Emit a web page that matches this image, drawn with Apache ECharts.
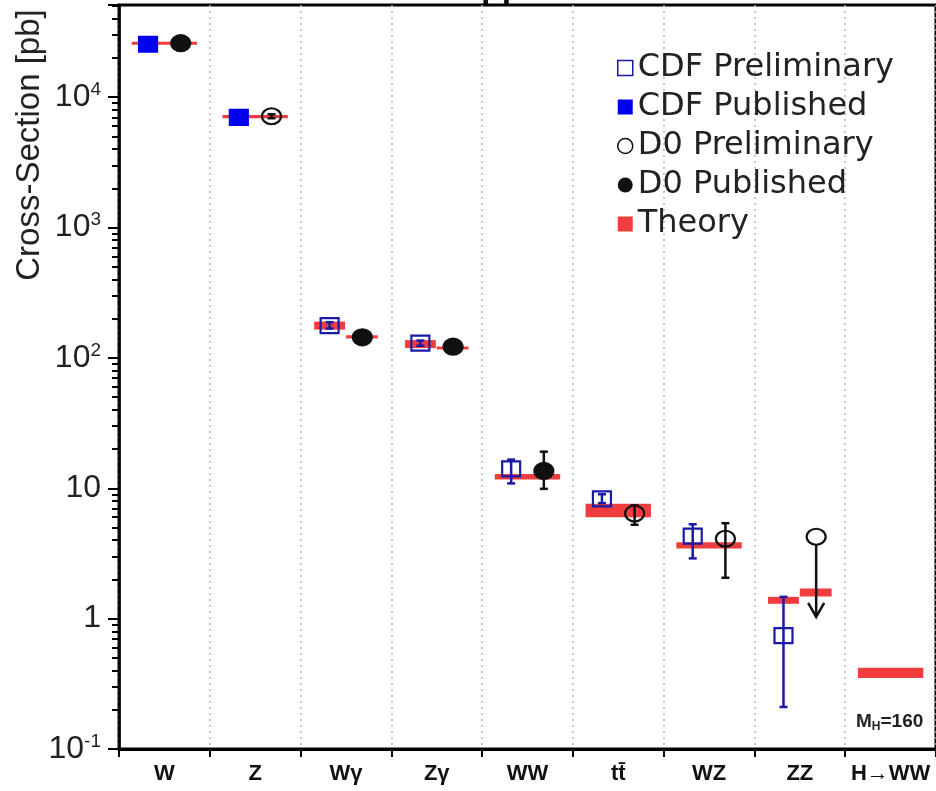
<!DOCTYPE html>
<html>
<head>
<meta charset="utf-8">
<script src="https://cdn.jsdelivr.net/npm/echarts@6/dist/echarts.min.js"></script>
<style>
  html, body { margin: 0; padding: 0; background: #fff; }
  #chart { width: 936px; height: 791px; }
</style>
</head>
<body>
<div id="chart"></div>
<script>
// categories on the x axis
const categories = ['W', 'Z', 'W\u03b3', 'Z\u03b3', 'WW', 'tt\u0304', 'WZ', 'ZZ', 'H\u2192WW'];

// [category index, value, error low, error high]  (pb)
const cdfPrelim = [[2, 177, 168, 188], [3, 130, 124, 136], [4, 14.1, 10.9, 16.6], [5, 8.3, 7.7, 9.0], [6, 4.3, 2.9, 5.3], [7, 0.74, 0.21, 1.47]];
const cdfPub = [[0, 25500, 24600, 26400], [1, 7000, 6750, 7250]];
const d0Prelim = [[1, 7150, 6900, 7400], [5, 6.4, 5.25, 7.4], [6, 4.1, 2.06, 5.4], [7, 4.25, null, null]];
const d0Pub = [[0, 26000, 25000, 27000], [2, 144, 130, 158], [3, 122, 114, 131], [4, 13.6, 9.9, 19.1]];
// D0 ZZ upper limit: [category, from, arrow tip]
const d0Limit = [[7, 4.25, 1.03]];

// theory band: [category, low, high, side]  side: 0 both, -1 CDF side, 1 D0 side
const theory = [
    [0, 25300, 26300, 0], [1, 6900, 7300, 0],
    [2, 165, 190, -1], [2, 141, 149, 1],
    [3, 119, 137, -1], [3, 116, 121, 1],
    [4, 11.7, 12.9, 0], [5, 6.0, 7.6, 0], [6, 3.45, 3.85, 0],
    [7, 1.30, 1.47, -1], [7, 1.48, 1.70, 1],
    [8, 0.35, 0.42, 0]
];

// log axis ticks
const decades = [0.1, 1, 10, 100, 1000, 10000];
const minorMultipliers = [2, 3, 4, 5, 6, 7, 8, 9];
const yMin = 0.1, yMax = 51000;

const RED = '#f03c3c';
const CDF_BLUE = '#0000f0';
const CDF_NAVY = '#1a1aa8';
const D0_BLACK = '#111';

var minorTicks = [];
decades.forEach(function (d) {
    minorMultipliers.forEach(function (m) {
        if (d * m < yMax) minorTicks.push(d * m);
    });
});

function catWidth(api, c, v) {
    return api.coord([c + 1, v])[0] - api.coord([c, v])[0];
}

function theoryRender(params, api) {
    var c = api.value(0), side = api.value(3);
    var pLo = api.coord([c, api.value(1)]);
    var yHi = api.coord([c, api.value(2)])[1];
    var bw = catWidth(api, c, api.value(1));
    var a = -0.36, b = 0.36;
    if (side < 0) { a = -0.35; b = -0.01; }
    else if (side > 0) { a = 0; b = 0.35; }
    var h = Math.max(pLo[1] - yHi, 3);
    return {
        type: 'rect',
        shape: { x: pLo[0] + a * bw, y: pLo[1] - h, width: (b - a) * bw, height: h },
        style: { fill: RED }
    };
}

function pointRender(shape, filled, color, barColor, offset) {
    return function (params, api) {
        var c = api.value(0);
        var p = api.coord([c, api.value(1)]);
        var bw = catWidth(api, c, api.value(1));
        var cx = p[0] + offset * bw, cy = p[1];
        var children = [];
        var lo = api.value(2), hi = api.value(3);
        if (lo != null && !isNaN(lo) && !isNaN(hi)) {
            var yl = api.coord([c, lo])[1], yh = api.coord([c, hi])[1];
            var ls = { stroke: barColor, lineWidth: 2.5 };
            children.push({ type: 'line', shape: { x1: cx, y1: yh, x2: cx, y2: yl }, style: ls });
            children.push({ type: 'line', shape: { x1: cx - 4, y1: yh, x2: cx + 4, y2: yh }, style: ls });
            children.push({ type: 'line', shape: { x1: cx - 4, y1: yl, x2: cx + 4, y2: yl }, style: ls });
        }
        var mstyle = { fill: filled ? color : 'rgba(0,0,0,0)', stroke: color, lineWidth: 2.2 };
        if (shape === 'square') {
            children.push({ type: 'rect', shape: { x: cx - 9, y: cy - 7.5, width: 18, height: 15 }, style: mstyle });
        } else {
            children.push({ type: 'ellipse', shape: { cx: cx, cy: cy, rx: 9.5, ry: 8 }, style: mstyle });
        }
        return { type: 'group', children: children };
    };
}

function limitRender(params, api) {
    var c = api.value(0);
    var p = api.coord([c, api.value(1)]);
    var bw = catWidth(api, c, api.value(1));
    var cx = p[0] + 0.18 * bw;
    var yt = api.coord([c, api.value(2)])[1];
    var st = { stroke: D0_BLACK, lineWidth: 2.5, fill: null };
    return {
        type: 'group',
        children: [
            { type: 'line', shape: { x1: cx, y1: p[1] + 8, x2: cx, y2: yt }, style: st },
            { type: 'polyline', shape: { points: [[cx - 8, yt - 14], [cx, yt], [cx + 8, yt - 14]] }, style: st }
        ]
    };
}

function yLabel(v) {
    var l = Math.log10(v);
    var e = Math.round(l);
    if (Math.abs(l - e) > 1e-6) return '';
    if (e === 0) return '{b|1}';
    if (e === 1) return '{b|10}';
    return '{b|10}{s|' + e + '}';
}

var chart = echarts.init(document.getElementById('chart'));
var option = {
    animation: false,
    backgroundColor: '#fff',
    grid: {
        left: 119, top: 5, bottom: 42, right: -4,
        show: true, borderColor: '#000', borderWidth: 3
    },
    legend: {
        orient: 'vertical',
        left: 612, top: 47,
        itemWidth: 15, itemHeight: 15, itemGap: 7,
        selectedMode: false,
        textStyle: { fontFamily: 'DejaVu Sans', fontSize: 32, color: '#222' },
        data: [
            { name: 'CDF Preliminary', icon: 'rect', itemStyle: { color: '#fff', borderColor: CDF_NAVY, borderWidth: 1.5 } },
            { name: 'CDF Published', icon: 'rect', itemStyle: { color: CDF_BLUE } },
            { name: 'D0 Preliminary', icon: 'circle', itemStyle: { color: '#fff', borderColor: D0_BLACK, borderWidth: 1.5 } },
            { name: 'D0 Published', icon: 'circle', itemStyle: { color: D0_BLACK } },
            { name: 'Theory', icon: 'rect', itemStyle: { color: RED } }
        ]
    },
    xAxis: {
        type: 'category',
        data: categories,
        boundaryGap: true,
        axisLine: { show: true, lineStyle: { color: '#000', width: 3 } },
        axisTick: { show: true, interval: 0, length: 8, lineStyle: { color: '#000', width: 2 } },
        axisLabel: {
            interval: 0, margin: 14, color: '#111', fontWeight: 'bold', fontSize: 22,
            fontFamily: 'Liberation Sans Narrow, Liberation Sans'
        },
        splitLine: { show: true, interval: 0, lineStyle: { type: [2, 4], color: '#b4b4b4', width: 1.5 } }
    },
    yAxis: [
        {
            type: 'log',
            min: yMin, max: yMax,
            axisLine: { show: true, lineStyle: { color: '#000', width: 2.5 } },
            axisTick: { show: true, length: 11, lineStyle: { color: '#000', width: 2 } },
            splitLine: { show: false },
            axisLabel: {
                margin: 18,
                formatter: yLabel,
                rich: {
                    b: { fontFamily: 'Liberation Sans', fontSize: 32, color: '#222', lineHeight: 34 },
                    s: { fontFamily: 'Liberation Sans', fontSize: 19, color: '#222', lineHeight: 17, verticalAlign: 'top' }
                }
            }
        },
        {
            // minor log ticks (2..9 x 10^k)
            type: 'log',
            position: 'left',
            min: yMin, max: yMax,
            axisLine: { show: false },
            axisLabel: { show: false },
            splitLine: { show: false },
            axisTick: { show: true, length: 7, customValues: minorTicks, lineStyle: { color: '#000', width: 2 } }
        }
    ],
    graphic: [
        {
            type: 'text', x: 30, y: 145, rotation: Math.PI / 2,
            style: { text: 'Cross-Section [pb]', font: '33px "Liberation Sans"', fill: '#222', align: 'center', verticalAlign: 'middle' }
        },
        {
            type: 'text', x: 856, y: 722,
            style: {
                text: '{m|M}{h|H}{m|=160}', verticalAlign: 'middle',
                rich: {
                    m: { fontFamily: 'Liberation Sans Narrow, Liberation Sans', fontWeight: 'bold', fontSize: 19, fill: '#222' },
                    h: { fontFamily: 'Liberation Sans Narrow, Liberation Sans', fontWeight: 'bold', fontSize: 12, fill: '#222', verticalAlign: 'bottom', padding: [9, 0, 0, 0] }
                }
            }
        },
        {
            type: 'text', x: 481, y: 7,
            style: { text: 'pp', font: 'bold 34px "Liberation Sans"', fill: '#111', verticalAlign: 'bottom' },
            z: -1
        }
    ],
    series: [
        { name: 'Theory', type: 'custom', renderItem: theoryRender, data: theory, encode: { x: 0, y: 1 }, itemStyle: { color: RED }, z: 2, silent: true },
        { name: 'CDF Preliminary', type: 'custom', renderItem: pointRender('square', false, CDF_NAVY, CDF_NAVY, -0.18), data: cdfPrelim, encode: { x: 0, y: 1 }, z: 3, silent: true },
        { name: 'CDF Published', type: 'custom', renderItem: pointRender('square', true, CDF_BLUE, CDF_NAVY, -0.18), data: cdfPub, encode: { x: 0, y: 1 }, z: 3, silent: true },
        { name: 'D0 Preliminary', type: 'custom', renderItem: pointRender('circle', false, D0_BLACK, D0_BLACK, 0.18), data: d0Prelim, encode: { x: 0, y: 1 }, z: 3, silent: true },
        { name: 'D0 Published', type: 'custom', renderItem: pointRender('circle', true, D0_BLACK, D0_BLACK, 0.18), data: d0Pub, encode: { x: 0, y: 1 }, z: 3, silent: true },
        { name: 'D0 Limit', type: 'custom', renderItem: limitRender, data: d0Limit, encode: { x: 0, y: 1 }, z: 3, silent: true }
    ]
};
chart.setOption(option);
</script>
</body>
</html>
